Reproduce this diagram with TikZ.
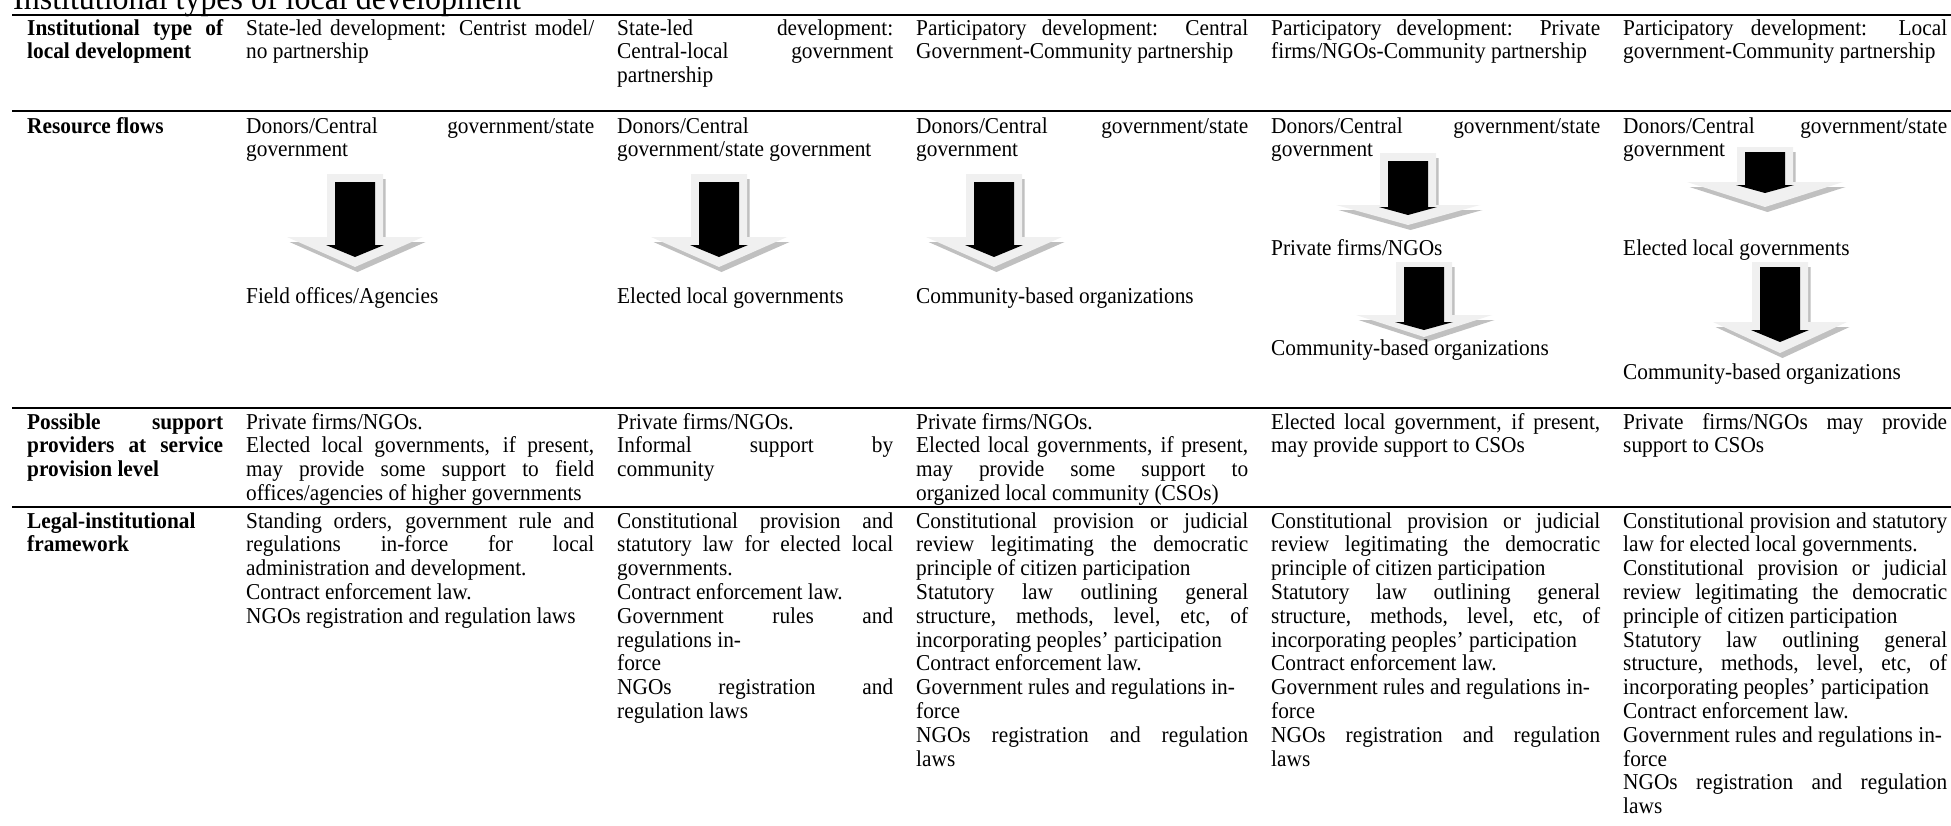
\documentclass[tikz,border=0pt]{standalone}
\usepackage{fontspec}
\setmainfont{Liberation Serif}[FakeStretch=0.94]
\definecolor{arrlight}{RGB}{240,240,240}
\definecolor{arrshadow}{RGB}{192,192,192}
\newcommand\J[1]{\makebox[\cw][s]{\spaceskip=0pt\xspaceskip=0pt\relax #1}}
\def\cw{300pt}
% cx, gray top, gray head start, gray half width, gray tip, black top, black head start, black tip
\newcommand\flowarrow[8]{%
  \begin{scope}[shift={(#1,0)}]
    \fill[arrshadow, shift={(2.5,5)}] (-28,#2) -- (28,#2) -- (28,#3) -- (#4,#3) -- (0,#5) -- (-#4,#3) -- (-28,#3) -- cycle;
    \fill[arrlight] (-28,#2) -- (28,#2) -- (28,#3) -- (#4,#3) -- (0,#5) -- (-#4,#3) -- (-28,#3) -- cycle;
    \fill[black] (-20,#6) -- (20,#6) -- (20,#7) -- (29,#7) -- (0,#8) -- (-29,#7) -- (-20,#7) -- cycle;
  \end{scope}}
\tikzset{
  cellA/.style={anchor=base west, inner sep=0pt, align=left, font=\fontsize{22.7pt}{23.8pt}\selectfont,
    execute at begin node={\spaceskip=0pt\xspaceskip=0pt\relax}},
  hcell/.style={cellA, font=\fontsize{22.7pt}{23.8pt}\selectfont\bfseries},
  rulex/.style={line width=2.2pt, black},
  w/.style={text width=#1pt+80pt, execute at begin node={\def\cw{#1pt}}},
}
\begin{document}
\begin{tikzpicture}[x=1pt,y=-1pt]
\useasboundingbox (0,0) rectangle (1951,825);
\clip (0,0) rectangle (1951,825);
\fill[white] (0,0) rectangle (1951,825);

\node[anchor=base west, inner sep=0pt, font=\fontsize{34pt}{38pt}\selectfont] (title) at (13,9) {Institutional types of local development};

% rules
\coordinate (r0a) at (12,15);  \coordinate (r0b) at (1951,15);
\coordinate (r1a) at (12,111); \coordinate (r1b) at (1951,111);
\coordinate (r2a) at (12,408); \coordinate (r2b) at (1951,408);
\coordinate (r3a) at (12,507); \coordinate (r3b) at (1951,507);
\draw[rulex] (r0a) -- (r0b);
\draw[rulex] (r1a) -- (r1b);
\draw[rulex] (r2a) -- (r2b);
\draw[rulex] (r3a) -- (r3b);

% Row 1
\node[hcell,w=196] (a1) at (27,35) {\J{Institutional type of}\\ local development};
\node[cellA,w=348] (a2) at (246,35) {\J{State-led development: Centrist model/}\\ no partnership};
\node[cellA,w=276] (a3) at (617,35) {\J{State-led development:}\\ \J{Central-local government}\\ partnership};
\node[cellA,w=332] (a4) at (916,35) {\J{Participatory development: Central}\\ Government-Community partnership};
\node[cellA,w=329] (a5) at (1271,35) {\J{Participatory development: Private}\\ firms/NGOs-Community partnership};
\node[cellA,w=324] (a6) at (1623,35) {\J{Participatory development: Local}\\ government-Community partnership};

% Row 2
\node[hcell,w=196] (b1) at (27,133) {Resource flows};
\node[cellA,w=348] (b2) at (246,133) {\J{Donors/Central government/state}\\ government};
\node[cellA,w=276] (b3) at (617,133) {Donors/Central\\ government/state government};
\node[cellA,w=332] (b4) at (916,133) {\J{Donors/Central government/state}\\ government};
\node[cellA,w=329] (b5) at (1271,133) {\J{Donors/Central government/state}\\ government};
\node[cellA,w=324] (b6) at (1623,133) {\J{Donors/Central government/state}\\ government};

\flowarrow{355}{174}{237}{68}{267}{182}{245}{257}
\flowarrow{719}{174}{237}{68}{267}{182}{245}{257}
\flowarrow{994}{174}{237}{68}{267}{182}{245}{257}
\flowarrow{1408}{153}{205}{72}{225}{161}{207}{215}
\flowarrow{1424}{262}{315}{68}{337}{267}{322}{330}
\flowarrow{1765}{147}{182}{78}{207}{152}{185}{193}
\flowarrow{1780}{262}{322}{67}{353}{267}{330}{342}

\node[cellA] (b2x) at (246,303) {Field offices/Agencies};
\node[cellA] (b3x) at (617,303) {Elected local governments};
\node[cellA] (b4x) at (916,303) {Community-based organizations};
\node[cellA] (b5x) at (1271,255) {Private firms/NGOs};
\node[cellA] (b5y) at (1271,355) {Community-based organizations};
\node[cellA] (b6x) at (1623,255) {Elected local governments};
\node[cellA] (b6y) at (1623,379) {Community-based organizations};

% Row 3
\node[hcell,w=196] (c1) at (27,429) {\J{Possible support}\\ \J{providers at service}\\ provision level};
\node[cellA,w=348] (c2) at (246,429) {Private firms/NGOs.\\ \J{Elected local governments, if present,}\\ \J{may provide some support to field}\\ offices/agencies of higher governments};
\node[cellA,w=276] (c3) at (617,429) {Private firms/NGOs.\\ \J{Informal support by}\\ community};
\node[cellA,w=332] (c4) at (916,429) {Private firms/NGOs.\\ \J{Elected local governments, if present,}\\ \J{may provide some support to}\\ organized local community (CSOs)};
\node[cellA,w=329] (c5) at (1271,429) {\J{Elected local government, if present,}\\ may provide support to CSOs};
\node[cellA,w=324] (c6) at (1623,429) {\J{Private firms/NGOs may provide}\\ support to CSOs};

% Row 4
\node[hcell,w=196] (d1) at (27,528) {Legal-institutional\\ framework};
\node[cellA,w=348] (d2) at (246,528) {\J{Standing orders, government rule and}\\ \J{regulations in-force for local}\\ administration and development.\\ Contract enforcement law.\\ NGOs registration and regulation laws};
\node[cellA,w=276] (d3) at (617,528) {\J{Constitutional provision and}\\ \J{statutory law for elected local}\\ governments.\\ Contract enforcement law.\\ \J{Government rules and}\\ regulations in-\\ force\\ \J{NGOs registration and}\\ regulation laws};
\node[cellA,w=332] (d4) at (916,528) {\J{Constitutional provision or judicial}\\ \J{review legitimating the democratic}\\ principle of citizen participation\\ \J{Statutory law outlining general}\\ \J{structure, methods, level, etc, of}\\ incorporating peoples’ participation\\ Contract enforcement law.\\ Government rules and regulations in-\\ force\\ \J{NGOs registration and regulation}\\ laws};
\node[cellA,w=329] (d5) at (1271,528) {\J{Constitutional provision or judicial}\\ \J{review legitimating the democratic}\\ principle of citizen participation\\ \J{Statutory law outlining general}\\ \J{structure, methods, level, etc, of}\\ incorporating peoples’ participation\\ Contract enforcement law.\\ Government rules and regulations in-\\ force\\ \J{NGOs registration and regulation}\\ laws};
\node[cellA,w=324] (d6) at (1623,528) {\J{Constitutional provision and statutory}\\ law for elected local governments.\\ \J{Constitutional provision or judicial}\\ \J{review legitimating the democratic}\\ principle of citizen participation\\ \J{Statutory law outlining general}\\ \J{structure, methods, level, etc, of}\\ incorporating peoples’ participation\\ Contract enforcement law.\\ Government rules and regulations in-\\ force\\ \J{NGOs registration and regulation}\\ laws};
\end{tikzpicture}
\end{document}
